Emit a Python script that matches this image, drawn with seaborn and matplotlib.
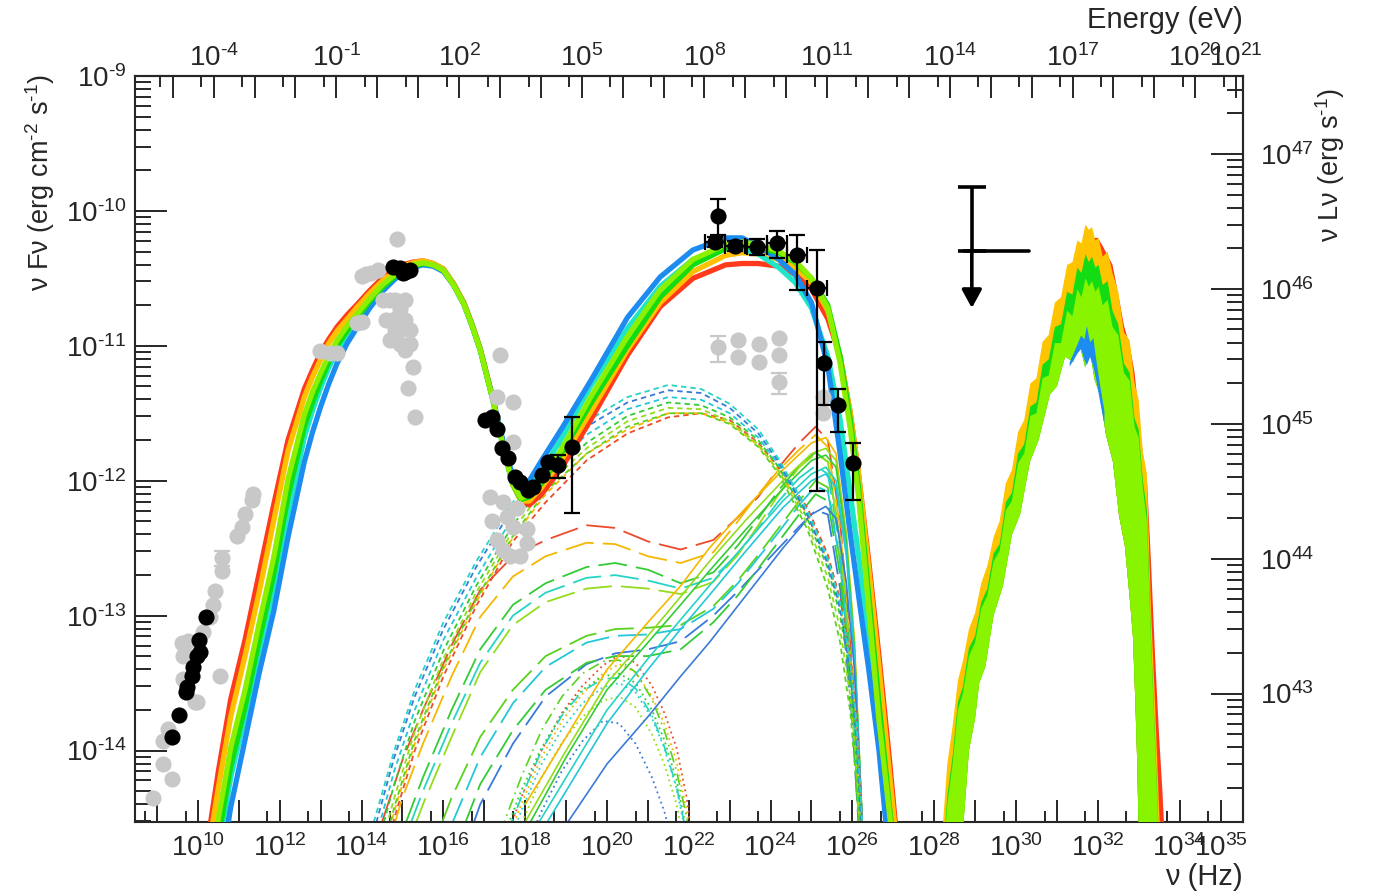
import numpy as np
import pandas as pd
import matplotlib
matplotlib.use("Agg")
import matplotlib.pyplot as plt
import seaborn as sns
from matplotlib.ticker import FixedLocator, FuncFormatter, NullFormatter

# ---------------- axis ranges (log10 units) ----------------
LOGNU_MIN, LOGNU_MAX = 8.46, 35.55
LOGF_MIN, LOGF_MAX = -14.53, -9.0
LOG_L_OFFSET = 56.578          # log10(nuL_nu / nuF_nu)
H_EV = 4.1357e-15              # eV s

# ---------------- total SED models (thick lines) ----------------
tot_nu = [10.3, 10.5, 10.8, 11.15, 11.5, 11.85, 12.2, 12.6, 12.8, 13.0,
          13.2, 13.4, 13.65, 13.9, 14.2, 14.5, 14.8, 15.0, 15.25, 15.5,
          15.75, 16.0, 16.25, 16.5, 16.7, 16.9, 17.2, 17.5, 17.7, 17.9,
          18.1, 18.4, 18.9, 19.6, 20.5, 21.3, 22.1, 22.9, 23.3, 23.7,
          24.2, 24.6, 25.0, 25.4, 25.7, 25.95, 26.15, 26.4, 26.65, 26.9,
          27.1]
tot_red = [-14.55, -14.15, -13.62, -13.18, -12.68, -12.18, -11.7, -11.32, -11.18, -11.05,
           -10.95, -10.86, -10.77, -10.69, -10.59, -10.5, -10.44, -10.4, -10.38, -10.37,
           -10.39, -10.43, -10.54, -10.68, -10.84, -11.02, -11.38, -11.78, -12.03, -12.15,
           -12.18, -12.1, -11.9, -11.55, -11.07, -10.71, -10.5, -10.4, -10.39, -10.39,
           -10.41, -10.47, -10.58, -10.8, -11.08, -11.5, -11.95, -12.6, -13.3, -14.05,
           -14.7]
tot_orange = [-14.65, -14.27, -13.75, -13.3, -12.82, -12.3, -11.78, -11.38, -11.23, -11.1,
              -10.98, -10.89, -10.8, -10.71, -10.61, -10.52, -10.45, -10.41, -10.385, -10.37,
              -10.39, -10.43, -10.54, -10.68, -10.84, -11.02, -11.38, -11.79, -12.03, -12.15,
              -12.15, -12.05, -11.84, -11.49, -11.03, -10.68, -10.45, -10.33, -10.31, -10.32,
              -10.36, -10.42, -10.53, -10.74, -11.08, -11.5, -11.95, -12.65, -13.38, -14.15,
              -14.75]
tot_cyan = [-15.25, -14.75, -14.2, -13.75, -13.27, -12.8, -12.25, -11.68, -11.48, -11.31,
            -11.16, -11.04, -10.91, -10.81, -10.68, -10.58, -10.49, -10.45, -10.41, -10.39,
            -10.405, -10.44, -10.55, -10.69, -10.85, -11.03, -11.39, -11.8, -12.02, -12.1,
            -12.05, -11.93, -11.68, -11.3, -10.87, -10.56, -10.36, -10.28, -10.28, -10.32,
            -10.42, -10.53, -10.72, -11.08, -11.55, -12.1, -12.55, -13.2, -13.9, -14.7,
            -15.3]
tot_blue = [-15.5, -15.0, -14.42, -13.92, -13.42, -12.97, -12.42, -11.86, -11.64, -11.45,
            -11.28, -11.13, -10.98, -10.86, -10.72, -10.6, -10.51, -10.46, -10.42, -10.4,
            -10.41, -10.45, -10.55, -10.69, -10.85, -11.03, -11.38, -11.76, -11.97, -12.07,
            -12.0, -11.85, -11.61, -11.26, -10.79, -10.49, -10.29, -10.2, -10.2, -10.26,
            -10.36, -10.47, -10.68, -11.15, -11.8, -12.4, -12.85, -13.4, -14.0, -14.8,
            -15.4]
tot_green = [-15.1, -14.65, -14.12, -13.68, -13.18, -12.7, -12.12, -11.6, -11.42, -11.26,
             -11.12, -11.0, -10.89, -10.79, -10.67, -10.57, -10.49, -10.44, -10.41, -10.39,
             -10.40, -10.44, -10.55, -10.69, -10.85, -11.03, -11.39, -11.8, -12.03, -12.14,
             -12.12, -12.02, -11.79, -11.43, -11.0, -10.64, -10.4, -10.28, -10.26, -10.27,
             -10.31, -10.38, -10.5, -10.7, -11.08, -11.55, -12.05, -12.85, -13.65, -14.4,
             -14.95]
tot_lime = [-14.95, -14.5, -13.98, -13.55, -13.05, -12.57, -11.99, -11.51, -11.34, -11.2,
            -11.07, -10.96, -10.85, -10.76, -10.65, -10.55, -10.475, -10.43, -10.40, -10.385,
            -10.40, -10.44, -10.55, -10.69, -10.85, -11.03, -11.39, -11.8, -12.03, -12.13,
            -12.1, -12.0, -11.76, -11.38, -10.93, -10.585, -10.36, -10.25, -10.23, -10.25,
            -10.3, -10.37, -10.5, -10.72, -11.13, -11.62, -12.12, -12.95, -13.78, -14.45,
            -15.0]

# ---------------- external Compton components (short dashes) ----------------
ec_nu = [14.3, 14.8, 15.3, 16.0, 16.8, 17.7, 18.5, 19.5, 20.5, 21.5,
         22.3, 23.0, 23.7, 24.2, 24.9, 25.4, 25.7, 25.95, 26.1, 26.25]
ec_cyan = [-14.53, -14.0, -13.55, -13.05, -12.6, -12.16, -11.84, -11.56, -11.38, -11.29,
           -11.32, -11.43, -11.62, -11.84, -12.22, -12.58, -12.9, -13.35, -13.8, -14.6]
ec_blue = [-14.6, -14.05, -13.6, -13.1, -12.64, -12.2, -11.88, -11.6, -11.42, -11.33,
           -11.35, -11.46, -11.65, -11.86, -12.25, -12.62, -12.95, -13.42, -13.9, -14.7]
ec_cyan2 = [-14.7, -14.15, -13.7, -13.18, -12.72, -12.27, -11.94, -11.66, -11.47, -11.38,
            -11.4, -11.5, -11.68, -11.88, -12.25, -12.6, -12.92, -13.35, -13.8, -14.6]
ec_green = [-14.8, -14.25, -13.78, -13.26, -12.78, -12.33, -12.0, -11.72, -11.52, -11.42,
            -11.44, -11.53, -11.7, -11.9, -12.28, -12.65, -13.0, -13.45, -13.95, -14.8]
ec_lime = [-14.9, -14.35, -13.86, -13.32, -12.83, -12.37, -12.04, -11.76, -11.56, -11.46,
           -11.47, -11.56, -11.73, -11.93, -12.32, -12.72, -13.1, -13.6, -14.1, -15.0]
ec_green2 = [-15.0, -14.42, -13.92, -13.38, -12.88, -12.41, -12.08, -11.8, -11.6, -11.5,
             -11.5, -11.58, -11.75, -11.95, -12.36, -12.8, -13.2, -13.72, -14.25, -15.1]
ec_orange = [-15.05, -14.45, -13.95, -13.4, -12.9, -12.42, -12.1, -11.8, -11.62, -11.5,
             -11.5, -11.57, -11.74, -11.93, -12.25, -12.6, -12.92, -13.35, -13.8, -14.6]
ec_red = [-15.1, -14.5, -14.0, -13.45, -12.93, -12.45, -12.16, -11.85, -11.65, -11.53,
          -11.5, -11.55, -11.72, -11.9, -12.2, -12.55, -12.88, -13.3, -13.75, -14.6]

# ---------------- long-dashed components ----------------
ld_nu = [14.5, 15.0, 15.5, 16.2, 16.9, 17.7, 18.5, 19.5, 20.2, 21.0,
         21.8, 22.6, 23.2, 23.7, 24.2, 24.7, 25.1, 25.4, 25.7, 26.0, 26.2]
ld_red = [-14.53, -14.07, -13.7, -13.22, -12.81, -12.56, -12.44, -12.33, -12.35, -12.45,
          -12.51, -12.44, -12.27, -12.12, -11.9, -11.72, -11.6, -11.7, -12.3, -13.4, -14.6]
ld_orange = [-14.85, -14.35, -13.95, -13.45, -13.01, -12.71, -12.56, -12.46, -12.47, -12.56,
             -12.61, -12.53, -12.3, -12.1, -11.92, -11.77, -11.66, -11.75, -12.35, -13.45, -14.6]
ld_green = [-15.1, -14.6, -14.2, -13.7, -13.25, -12.92, -12.76, -12.64, -12.61, -12.66,
            -12.76, -12.68, -12.48, -12.28, -12.07, -11.89, -11.79, -11.86, -12.45, -13.5, -14.7]
ld_cyan = [-15.2, -14.7, -14.3, -13.8, -13.35, -13.0, -12.83, -12.72, -12.7, -12.74,
           -12.8, -12.72, -12.54, -12.35, -12.15, -11.98, -11.89, -11.95, -12.5, -13.6, -14.7]
ld_lime = [-15.3, -14.8, -14.4, -13.9, -13.42, -13.07, -12.9, -12.8, -12.78, -12.8,
           -12.84, -12.75, -12.55, -12.33, -12.1, -11.9, -11.8, -11.86, -12.45, -13.5, -14.7]
ld_green2 = [-16.5, -15.8, -14.9, -14.35, -13.9, -13.55, -13.3, -13.15, -13.1, -13.09,
             -13.07, -12.93, -12.74, -12.55, -12.35, -12.15, -12.0, -12.05, -12.6, -13.6, -14.7]
ld_cyan2 = [-16.6, -16.0, -15.2, -14.55, -14.05, -13.65, -13.38, -13.2, -13.15, -13.14,
            -13.1, -12.95, -12.76, -12.57, -12.38, -12.18, -12.04, -12.08, -12.6, -13.6, -14.7]
ld_blue = [-17.0, -16.5, -15.8, -15.0, -14.4, -13.95, -13.6, -13.36, -13.28, -13.25,
           -13.19, -13.0, -12.82, -12.66, -12.5, -12.34, -12.22, -12.25, -12.8, -13.8, -14.8]
ld_lime2 = [-17.0, -16.3, -15.5, -14.8, -14.25, -13.85, -13.55, -13.35, -13.3, -13.3,
            -13.25, -13.05, -12.85, -12.65, -12.45, -12.25, -12.1, -12.15, -12.7, -13.7, -14.8]

# ---------------- thin solid components ----------------
sl_nu = [18.0, 19.0, 20.0, 21.0, 21.8, 22.5, 23.4, 24.3, 25.0, 25.35, 25.6, 25.85, 26.05, 26.25]
sl_orange = [-14.4, -13.9, -13.4, -13.05, -12.78, -12.5, -12.2, -11.92, -11.72, -11.68, -11.8, -12.4, -13.2, -14.6]
sl_lime = [-14.53, -14.0, -13.5, -13.15, -12.86, -12.6, -12.29, -12.0, -11.8, -11.76, -11.85, -12.4, -13.2, -14.6]
sl_green = [-14.6, -14.05, -13.55, -13.2, -12.92, -12.67, -12.36, -12.06, -11.85, -11.81, -11.9, -12.45, -13.25, -14.6]
sl_cyan = [-14.7, -14.2, -13.7, -13.32, -13.03, -12.78, -12.46, -12.15, -11.95, -11.9, -12.0, -12.5, -13.3, -14.6]
sl_cyan2 = [-14.8, -14.3, -13.8, -13.4, -13.1, -12.85, -12.52, -12.2, -12.0, -11.95, -12.05, -12.55, -13.3, -14.6]
sl_blue = [-15.0, -14.55, -14.1, -13.75, -13.45, -13.2, -12.85, -12.5, -12.25, -12.19, -12.28, -12.75, -13.4, -14.6]

# ---------------- dotted / dash-dotted components ----------------
dt_nu = [17.4, 17.9, 18.4, 18.9, 19.4, 19.9, 20.3, 20.7, 21.1, 21.4, 21.7, 21.95, 22.1]
dt_red = [-14.75, -14.35, -14.0, -13.72, -13.52, -13.37, -13.29, -13.35, -13.52, -13.72, -13.98, -14.35, -14.7]
dt_orange = [-14.8, -14.4, -14.05, -13.78, -13.58, -13.43, -13.36, -13.42, -13.6, -13.8, -14.08, -14.45, -14.8]
dt_green = [-14.7, -14.3, -13.98, -13.73, -13.55, -13.45, -13.43, -13.5, -13.7, -13.92, -14.22, -14.6, -14.9]
dt_cyan = [-14.85, -14.45, -14.1, -13.84, -13.65, -13.53, -13.5, -13.57, -13.76, -13.98, -14.28, -14.65, -15.0]
dt_lime = [-14.95, -14.55, -14.2, -13.94, -13.75, -13.63, -13.6, -13.68, -13.88, -14.1, -14.4, -14.8, -15.1]
dt_blue = [-15.2, -14.8, -14.45, -14.15, -13.93, -13.78, -13.8, -13.95, -14.2, -14.45, -14.8, -15.2, -15.5]
dd_green = [-14.6, -14.2, -13.85, -13.6, -13.43, -13.34, -13.33, -13.42, -13.62, -13.85, -14.15, -14.5, -14.8]
dd_cyan = [-14.75, -14.35, -14.0, -13.74, -13.56, -13.47, -13.46, -13.54, -13.74, -13.97, -14.27, -14.62, -14.95]

# ---------------- neutrino-like band (jagged) ----------------
nb_nu = [28.20, 28.32, 28.45, 28.58, 28.70, 28.85, 29.00, 29.15, 29.30, 29.45,
         29.60, 29.75, 29.90, 30.05, 30.20, 30.35, 30.50, 30.65, 30.80, 30.95,
         31.10, 31.25, 31.38, 31.50, 31.60, 31.70, 31.78, 31.86, 31.94, 32.02,
         32.12, 32.24, 32.36, 32.50, 32.64, 32.78, 32.90, 33.00, 33.10, 33.20,
         33.30, 33.40, 33.50, 33.56]
nb_orange = [-14.6, -14.1, -13.82, -13.48, -13.34, -13.1, -12.98, -12.76, -12.63, -12.42,
             -12.3, -12.02, -11.92, -11.64, -11.55, -11.28, -11.24, -10.97, -10.92, -10.68,
             -10.64, -10.4, -10.38, -10.22, -10.24, -10.1, -10.14, -10.12, -10.22, -10.2,
             -10.34, -10.3, -10.46, -10.6, -10.9, -10.96, -11.28, -11.4, -11.78, -11.95,
             -12.95, -13.65, -14.45, -14.8]
nb_green = [-14.85, -14.34, -14.04, -13.64, -13.53, -13.24, -13.15, -12.9, -12.8, -12.54,
            -12.47, -12.16, -12.09, -11.8, -11.73, -11.45, -11.42, -11.14, -11.1, -10.86,
            -10.84, -10.6, -10.62, -10.42, -10.46, -10.32, -10.38, -10.34, -10.42, -10.4,
            -10.55, -10.52, -10.74, -10.84, -11.13, -11.2, -11.54, -11.62, -11.99, -12.22,
            -13.15, -13.9, -14.7, -15.25]
nb_lime = [-14.9, -14.4, -14.1, -13.7, -13.58, -13.3, -13.2, -12.95, -12.85, -12.6,
           -12.52, -12.22, -12.15, -11.87, -11.8, -11.52, -11.5, -11.24, -11.22, -10.98,
           -10.98, -10.74, -10.78, -10.58, -10.64, -10.5, -10.56, -10.52, -10.6, -10.56,
           -10.7, -10.66, -10.86, -10.92, -11.2, -11.26, -11.6, -11.68, -12.05, -12.3,
           -13.2, -13.95, -14.75, -15.3]
nb_red_nu = [31.9, 32.0, 32.12, 32.24, 32.36, 32.5, 32.64, 32.78, 32.9, 33.0, 33.1, 33.2, 33.3, 33.4, 33.5, 33.58, 33.66]
nb_red = [-10.2, -10.2, -10.26, -10.33, -10.4, -10.62, -10.85, -11.0, -11.2, -11.5, -11.8, -11.98, -12.6, -13.3, -13.9, -14.3, -14.8]
nb_in_nu = [28.70, 28.85, 29.00, 29.10, 29.25, 29.45, 29.68, 29.90, 30.10, 30.34,
            30.55, 30.83, 31.00, 31.20, 31.40, 31.55, 31.69, 31.80, 31.92, 32.05,
            32.20, 32.37, 32.52, 32.66, 32.79, 32.86, 32.92, 32.96, 33.00]
nb_in = [-14.6, -14.0, -13.76, -13.5, -13.38, -13.0, -12.78, -12.4, -12.25, -11.86,
         -11.7, -11.36, -11.3, -11.08, -11.12, -10.98, -11.16, -11.02, -11.25, -11.36,
         -11.66, -11.86, -12.26, -12.48, -12.9, -13.16, -13.66, -14.05, -14.6]
nb_blue_nu = [31.30, 31.40, 31.50, 31.58, 31.66, 31.72, 31.80, 31.88, 31.95, 32.05, 32.15]
nb_blue_top = [-11.12, -11.05, -10.98, -10.92, -10.95, -10.85, -10.97, -10.94, -11.1, -11.3, -11.48]
nb_blue_low = [-11.15, -11.1, -11.05, -11.02, -11.1, -11.14, -11.08, -11.15, -11.25, -11.42, -11.58]

# ---------------- data points ----------------
blk_nu = [9.36, 9.54, 9.71, 9.73, 9.85, 9.88, 9.98, 10.05, 10.02, 10.20,
          14.77, 14.94, 15.06, 15.18, 15.01,
          17.02, 17.19, 17.31, 17.43, 17.58, 17.75, 17.87, 18.07, 18.19, 18.41, 18.56]
blk_f = [-13.90, -13.74, -13.57, -13.53, -13.45, -13.38, -13.30, -13.27, -13.18, -13.01,
         -10.415, -10.42, -10.45, -10.44, -10.46,
         -11.55, -11.53, -11.62, -11.76, -11.83, -11.97, -12.01, -12.07, -12.05, -11.96, -11.86]
# points with error bars (X-ray and gamma-ray)
eb_nu = [18.80, 19.14, 22.71, 22.64, 23.13, 23.67, 24.16, 24.65, 25.13, 25.31, 25.65, 26.01]
eb_f = [-11.88, -11.75, -10.04, -10.23, -10.26, -10.27, -10.24, -10.33, -10.57, -11.13, -11.44, -11.87]
eb_f_hi = [-11.81, -11.53, -9.91, -10.19, -10.22, -10.21, -10.15, -10.18, -10.29, -10.97, -11.32, -11.72]
eb_f_lo = [-11.98, -12.24, -10.18, -10.27, -10.30, -10.33, -10.35, -10.59, -12.08, -11.44, -11.64, -12.14]
eb_nu_lo = [18.80, 19.14, 22.71, 22.40, 22.89, 23.43, 23.92, 24.41, 24.89, 25.31, 25.65, 26.01]
eb_nu_hi = [18.80, 19.14, 22.71, 22.88, 23.37, 23.91, 24.40, 24.89, 25.37, 25.31, 25.65, 26.01]

gry_nu = [8.90, 9.14, 9.36, 9.14, 9.27, 9.63, 9.68, 9.76, 9.93, 10.12, 10.29, 10.37, 10.42,
          10.54, 10.59, 10.59, 10.95, 11.08, 11.15, 11.32, 11.34, 9.61, 9.63, 9.98,
          12.98, 13.23, 13.40, 13.89, 14.0, 14.12, 14.24, 14.40, 14.0, 14.87,
          14.52, 14.69, 14.82, 14.94, 15.06, 14.82, 14.60, 14.94, 15.18, 14.69, 15.06, 15.18,
          14.94, 15.06, 14.82, 15.26, 15.13, 15.31,
          17.38, 17.31, 17.70, 17.70, 17.14, 17.46, 17.56, 17.31, 17.46, 17.87, 18.04, 18.04,
          17.70, 17.63, 17.20, 17.80,
          22.71, 23.20, 23.20, 23.72, 23.72, 24.21, 24.21, 24.21, 25.28, 25.28]
gry_f = [-14.35, -14.10, -14.21, -13.93, -13.84, -13.47, -13.27, -13.19, -13.64, -13.12, -13.01, -12.92, -12.82,
         -13.45, -12.67, -12.57, -12.41, -12.34, -12.25, -12.14, -12.10, -13.20, -13.30, -13.64,
         -11.04, -11.05, -11.05, -10.83, -10.82, -10.47, -10.46, -10.44, -10.48, -10.21,
         -10.66, -10.66, -10.66, -10.73, -10.81, -10.88, -10.81, -10.99, -10.99, -10.96, -10.66, -10.88,
         -10.88, -11.03, -10.80, -11.16, -11.31, -11.53,
         -11.07, -11.38, -11.42, -11.71, -12.12, -12.16, -12.27, -12.44, -12.51, -12.56, -12.36, -12.46,
         -12.34, -12.56, -12.30, -12.20,
         -11.01, -10.96, -11.08, -10.99, -11.12, -10.94, -11.07, -11.27, -11.38, -11.50]
gry_eb_nu = [22.71, 24.21, 10.59]
gry_eb_f = [-11.01, -11.27, -12.57]
gry_eb_hi = [-10.93, -11.20, -12.52]
gry_eb_lo = [-11.12, -11.36, -12.63]

# upper limit
ul_nu, ul_f, ul_top, ul_tip = 28.92, -10.30, -9.82, -10.72
ul_nu_lo, ul_nu_hi = 28.74, 30.33

# tick labels shown
bottom_labels = list(range(10, 35, 2)) + [35]
top_labels = [-4, -1, 2, 5, 8, 11, 14, 17, 20, 21]
left_labels = [-14, -13, -12, -11, -10, -9]
right_labels = [43, 44, 45, 46, 47]

# ---------------- colours ----------------
TOT = {"red": "#ff3a1c", "orange": "#ffc000", "cyan": "#1fe6c8",
       "blue": "#1c8cf0", "green": "#12dc12", "lime": "#8cf000"}
THIN = {"red": "#ec4a2c", "orange": "#f4b800", "green": "#34cc34", "green2": "#5ad21e",
        "lime": "#94dc1c", "cyan": "#26d4c4", "cyan2": "#22c8d8", "blue": "#3a7ad8"}
GREY = "#c8c8c8"

# ---------------- style ----------------
sns.set_style("ticks")
plt.rcParams["font.family"] = ["Liberation Sans", "DejaVu Sans"]
plt.rcParams["mathtext.fontset"] = "custom"
plt.rcParams["mathtext.rm"] = "Liberation Sans"
plt.rcParams["mathtext.it"] = "Liberation Sans:italic"
plt.rcParams["mathtext.bf"] = "Liberation Sans:bold"
plt.rcParams["axes.linewidth"] = 1.5


def P(a):
    return np.power(10.0, np.asarray(a, dtype=float))


fig = plt.figure(figsize=(13.78, 8.96), dpi=100)
ax = fig.add_axes([135 / 1378, 74 / 896, 1108 / 1378, 746 / 896])
ax.set_xscale("log")
ax.set_yscale("log")
ax.set_xlim(P(LOGNU_MIN), P(LOGNU_MAX))
ax.set_ylim(P(LOGF_MIN), P(LOGF_MAX))


def line(xs, ys, color, lw, ls="-", z=2):
    sns.lineplot(x=P(xs), y=P(ys), ax=ax, color=color, linewidth=lw, linestyle=ls,
                 sort=False, estimator=None, legend=False, zorder=z,
                 solid_joinstyle="round", dash_joinstyle="round")


# dotted & dash-dot components
for arr, c in [(dt_red, "red"), (dt_orange, "orange"), (dt_green, "green"), (dt_cyan, "cyan"),
               (dt_lime, "lime"), (dt_blue, "blue")]:
    line(dt_nu, arr, THIN[c], 1.3, (0, (1, 2)))
for arr, c in [(dd_green, "green2"), (dd_cyan, "cyan")]:
    line(dt_nu, arr, THIN[c], 1.2, (0, (7, 3, 1, 3)))

# long-dashed components
for arr, c in [(ld_red, "red"), (ld_orange, "orange"), (ld_green, "green"), (ld_cyan, "cyan"),
               (ld_lime, "lime"), (ld_green2, "green2"), (ld_cyan2, "cyan2"), (ld_blue, "blue"),
               (ld_lime2, "green")]:
    line(ld_nu, arr, THIN[c], 1.3, (0, (16, 5)))

# thin solid components
for arr, c in [(sl_orange, "orange"), (sl_lime, "lime"), (sl_green, "green"), (sl_cyan, "cyan"),
               (sl_cyan2, "cyan2"), (sl_blue, "blue")]:
    line(sl_nu, arr, THIN[c], 1.2, "-")

# external Compton (short dash)
for arr, c in [(ec_red, "red"), (ec_orange, "orange"), (ec_green2, "green2"), (ec_lime, "lime"),
               (ec_green, "green"), (ec_cyan2, "cyan2"), (ec_blue, "blue"), (ec_cyan, "cyan")]:
    line(ec_nu, arr, THIN[c], 1.3, (0, (3, 2.2)))

# total models (thick)
for arr, c in [(tot_red, "red"), (tot_orange, "orange"), (tot_cyan, "cyan"), (tot_blue, "blue"),
               (tot_green, "green"), (tot_lime, "lime")]:
    line(tot_nu, arr, TOT[c], 3.8, "-", z=3)

# neutrino-like jagged band
in_nu = np.asarray(nb_in_nu)
in_f = np.asarray(nb_in)
right_leg = in_nu >= 31.92
ax.fill(P(np.concatenate([nb_red_nu, in_nu[right_leg][::-1]])),
        P(np.concatenate([nb_red, in_f[right_leg][::-1]])), color=TOT["red"], lw=0, zorder=3)
for top, c in [(nb_orange, "#ffc400"), (nb_green, "#14dc14"), (nb_lime, "#88f400")]:
    ax.fill(P(np.concatenate([nb_nu, in_nu[::-1]])),
            P(np.concatenate([top, in_f[::-1]])), color=c, lw=0, zorder=3)
ax.fill_between(P(nb_blue_nu), P(nb_blue_low), P(nb_blue_top), color=TOT["blue"], lw=0, zorder=3)

# grey archival data
ax.errorbar(P(gry_eb_nu), P(gry_eb_f),
            yerr=[P(gry_eb_f) - P(gry_eb_lo), P(gry_eb_hi) - P(gry_eb_f)],
            fmt="none", ecolor=GREY, elinewidth=1.6, capsize=6, capthick=1.6, zorder=4)
gdf = pd.DataFrame({"nu": P(gry_nu), "f": P(gry_f)})
sns.scatterplot(data=gdf, x="nu", y="f", ax=ax, color=GREY, s=135, linewidth=0, zorder=4, legend=False)

# black data
ax.errorbar(P(eb_nu), P(eb_f),
            yerr=[P(eb_f) - P(eb_f_lo), P(eb_f_hi) - P(eb_f)],
            xerr=[P(eb_nu) - P(eb_nu_lo), P(eb_nu_hi) - P(eb_nu)],
            fmt="none", ecolor="black", elinewidth=1.6, capsize=6, capthick=1.6, zorder=6)
bdf = pd.DataFrame({"nu": P(blk_nu + eb_nu), "f": P(blk_f + eb_f)})
sns.scatterplot(data=bdf, x="nu", y="f", ax=ax, color="black", s=135, linewidth=0, zorder=7, legend=False)

# upper limit
ax.errorbar([P(ul_nu)], [P(ul_f)], yerr=[[0.0], [P(ul_top) - P(ul_f)]], fmt="none",
            ecolor="black", elinewidth=2.6, capsize=10, capthick=2.6, zorder=6)
sns.lineplot(x=P([ul_nu_lo, ul_nu_hi]), y=P([ul_f, ul_f]), ax=ax, color="black",
             linewidth=2.6, legend=False, zorder=6)
ax.annotate("", xy=(P(ul_nu), P(ul_tip)), xytext=(P(ul_nu), P(ul_f)),
            arrowprops=dict(arrowstyle="-|>,head_width=0.3,head_length=0.55", color="black",
                            lw=2.6, shrinkA=0, shrinkB=0, mutation_scale=20), zorder=6)
ax.set_xlabel("")
ax.set_ylabel("")


# ---------------- axes / ticks ----------------
def fmt(show):
    def f(v, pos):
        e = int(round(np.log10(v)))
        if e not in show:
            return ""
        if e < 0:
            return r"$\mathregular{10^{\text{-}%d}}$" % (-e)
        return r"$\mathregular{10^{%d}}$" % e
    return FuncFormatter(f)


ax.xaxis.set_major_locator(FixedLocator([10.0 ** k for k in range(8, 37)]))
ax.xaxis.set_minor_locator(FixedLocator([5 * 10.0 ** k for k in range(7, 36)]))
ax.xaxis.set_major_formatter(fmt(bottom_labels))
ax.xaxis.set_minor_formatter(NullFormatter())
ax.yaxis.set_major_locator(FixedLocator([10.0 ** k for k in range(-16, -7)]))
ax.yaxis.set_minor_locator(FixedLocator([m * 10.0 ** k for k in range(-16, -8) for m in range(2, 10)]))
ax.yaxis.set_major_formatter(fmt(left_labels))
ax.yaxis.set_minor_formatter(NullFormatter())
ax.tick_params(axis="x", which="major", direction="in", length=15.8, width=1.4, labelsize=20, pad=9,
               top=False)
ax.tick_params(axis="x", which="minor", direction="in", length=7.9, width=1.4, top=False)
ax.tick_params(axis="y", which="major", direction="in", length=23, width=1.4, labelsize=20, pad=6,
               right=False)
ax.tick_params(axis="y", which="minor", direction="in", length=11.5, width=1.4, right=False)

L_FACTOR = 10.0 ** LOG_L_OFFSET
sec_top = ax.secondary_xaxis("top", functions=(lambda n: n * H_EV, lambda e: e / H_EV))
sec_top.xaxis.set_major_locator(FixedLocator([10.0 ** k for k in range(-7, 23)]))
sec_top.xaxis.set_minor_locator(FixedLocator([5 * 10.0 ** k for k in range(-8, 22)]))
sec_top.xaxis.set_major_formatter(fmt(top_labels))
sec_top.xaxis.set_minor_formatter(NullFormatter())
sec_top.tick_params(which="major", direction="in", length=15.8, width=1.4, labelsize=20, pad=3)
sec_top.tick_params(which="minor", direction="in", length=7.9, width=1.4)

sec_r = ax.secondary_yaxis("right", functions=(lambda f: f * L_FACTOR, lambda l: l / L_FACTOR))
sec_r.yaxis.set_major_locator(FixedLocator([10.0 ** k for k in range(40, 50)]))
sec_r.yaxis.set_minor_locator(FixedLocator([m * 10.0 ** k for k in range(40, 49) for m in range(2, 10)]))
sec_r.yaxis.set_major_formatter(fmt(right_labels))
sec_r.yaxis.set_minor_formatter(NullFormatter())
sec_r.tick_params(which="major", direction="in", length=23, width=1.4, labelsize=20, pad=12)
sec_r.tick_params(which="minor", direction="in", length=11.5, width=1.4)

for s in ax.spines.values():
    s.set_linewidth(1.5)

# titles
fig.text(1243 / 1378, 1 - 20 / 896, "Energy (eV)", ha="right", va="center", fontsize=21)
fig.text(1243 / 1378, 1 - 877 / 896, "ν (Hz)", ha="right", va="center", fontsize=21)
fig.text(40 / 1378, 1 - 74 / 896, r"ν Fν (erg cm$^{\text{-}2}$ s$^{\text{-}1}$)", rotation=90,
         ha="center", va="top", fontsize=19.5)
fig.text(1330 / 1378, 1 - 88 / 896, r"ν Lν (erg s$^{\text{-}1}$)", rotation=90,
         ha="center", va="top", fontsize=19.5)

fig.savefig("out.png", dpi=100)
